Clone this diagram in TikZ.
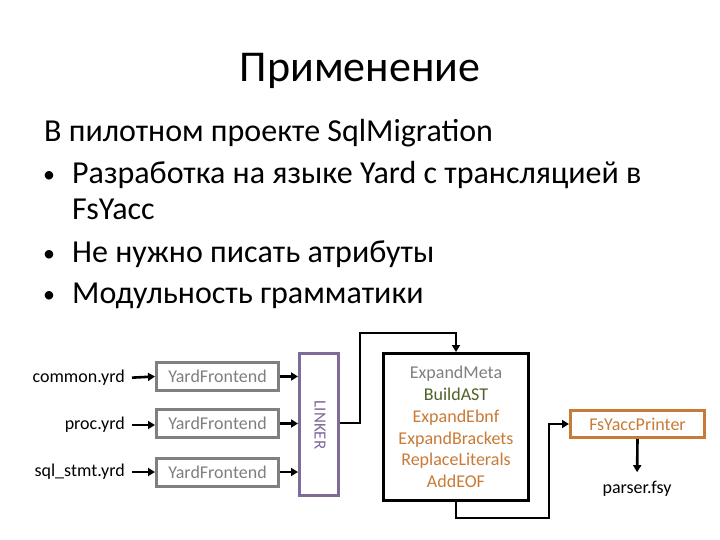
\documentclass[tikz,border=0pt]{standalone}
\usepackage{fontspec}
\setmainfont{Carlito}
\usetikzlibrary{arrows.meta,calc}
\definecolor{gframe}{HTML}{808080}
\definecolor{gtext}{HTML}{7F7F7F}
\definecolor{pframe}{HTML}{7F6A9A}
\definecolor{ptext}{HTML}{7F6A9A}
\definecolor{ocol}{HTML}{C97A36}
\definecolor{olive}{HTML}{4F6228}
\tikzset{
  title/.style={font=\fontsize{44}{48}\selectfont, anchor=base},
  body/.style={font=\fontsize{32}{36}\selectfont, anchor=base west, inner sep=0},
  bul/.style={font=\fontsize{24}{28}\selectfont, anchor=base west, inner sep=0},
  small/.style={font=\fontsize{18}{21}\selectfont},
  fe/.style={draw=gframe, line width=3pt, text=gtext, minimum width=122pt, minimum height=28pt, inner sep=0, small},
  arr/.style={-{Triangle[length=7pt,width=8pt]}, line width=2.6pt},
}
\begin{document}
\begin{tikzpicture}[x=1pt,y=-1pt]
\useasboundingbox (0,0) rectangle (720,540);
\fill[white] (0,0) rectangle (720,540);
% title
\node[title] (ttl) at (360,82) {Применение};
% body
\node[body] (l1) at (44,142) {В пилотном проекте SqlMigration};
\node[bul] (b1) at (43,183) {•};
\node[body] (l2) at (72,184) {Разработка на языке Yard с трансляцией в};
\node[body] (l3) at (72,220) {FsYacc};
\node[bul] (b2) at (43,261) {•};
\node[body] (l4) at (72,262) {Не нужно писать атрибуты};
\node[bul] (b3) at (43,302) {•};
\node[body] (l5) at (72,303) {Модульность грамматики};
% diagram
\node[small, anchor=east, inner sep=0] (f1) at (125,378) {common.yrd};
\node[small, anchor=east, inner sep=0] (f2) at (125,425) {proc.yrd};
\node[small, anchor=east, inner sep=0] (f3) at (125,472) {sql\_stmt.yrd};
\node[fe] (y1) at (217.5,376.5) {YardFrontend};
\node[fe] (y2) at (217.5,423.5) {YardFrontend};
\node[fe] (y3) at (217.5,472) {YardFrontend};
\node[draw=pframe, line width=3pt, minimum width=39pt, minimum height=142pt, inner sep=0] (lk) at (319,424.5) {};
\node[font=\fontsize{17}{20}\selectfont, text=ptext, rotate=-90, inner sep=0] (lkt) at (320,425) {LINKER};
\node[draw=black, line width=3pt, minimum width=145pt, minimum height=147pt, inner sep=0, align=center, font=\fontsize{18}{21.7}\selectfont] (ex) at (456,427)
  {\textcolor{gtext}{ExpandMeta}\\ \textcolor{olive}{BuildAST}\\ \textcolor{ocol}{ExpandEbnf}\\ \textcolor{ocol}{ExpandBrackets}\\ \textcolor{ocol}{ReplaceLiterals}\\ \textcolor{ocol}{AddEOF}};
\node[draw=ocol, line width=3pt, text=ocol, minimum width=134pt, minimum height=27pt, inner sep=0, small] (fy) at (637.5,424) {FsYaccPrinter};
\node[small, inner sep=0] (pf) at (637,489) {parser.fsy};
\coordinate (top) at (360,333);
\coordinate (bot) at (549,518);
% connectors
\draw[arr, shorten <=7pt] (f1.east) -- (y1.west);
\draw[arr, shorten <=7pt] (f2.east) -- (f2.east -| y2.west);
\draw[arr, shorten <=7pt] (f3.east) -- (f3.east -| y3.west);
\draw[arr] (y1.east) -- (y1.east -| lk.west);
\draw[arr] (y2.east) -- (y2.east -| lk.west);
\draw[arr] (y3.east) -- (y3.east -| lk.west);
\draw[arr] ($(lk.east)+(0,-1.5)$) -| (top) -| (ex.north);
\draw[arr] (ex.south) |- (bot) |- (fy.west);
\draw[arr, shorten >=9pt] (fy.south) -- (pf.north);
\end{tikzpicture}
\end{document}
